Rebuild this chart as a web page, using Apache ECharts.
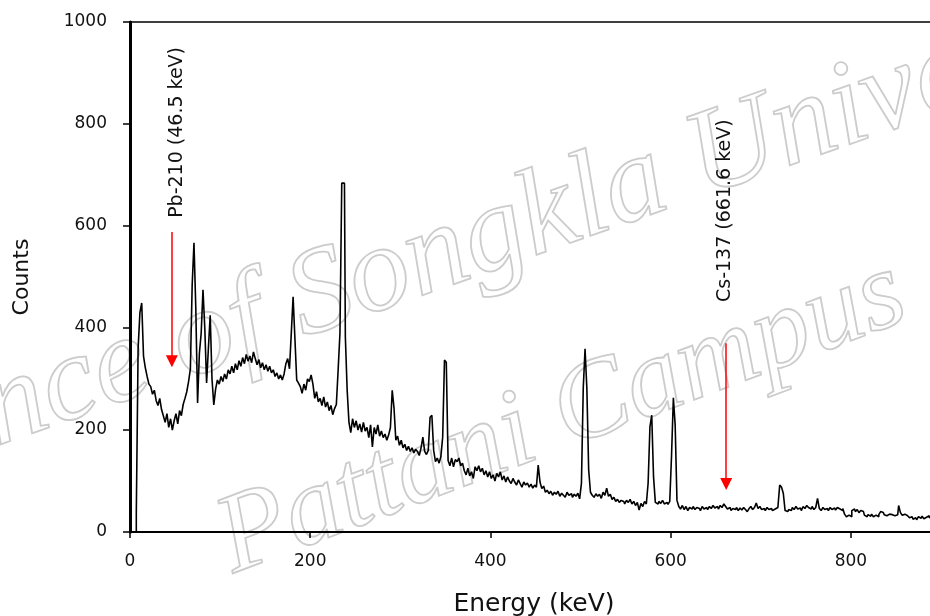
<!DOCTYPE html>
<html>
<head>
<meta charset="utf-8">
<script src="https://cdn.jsdelivr.net/npm/echarts@6/dist/echarts.min.js"></script>
<style>
  html, body { margin: 0; padding: 0; background: #fff; }
  #chart { width: 930px; height: 616px; }
</style>
</head>
<body>
<div id="chart"></div>
<script>
// Gamma-ray spectrum, 2 keV per channel, counts per channel
const CHANNEL_KEV = 2;
const counts = [
  1400, 0, 0, 0, 37, 360, 430, 449, 345, 322,        // 0 keV
  305, 290, 285, 270, 278, 258, 248, 262, 240, 228,   // 20
  215, 232, 205, 222, 200, 218, 232, 212, 238, 228,   // 40
  250, 262, 275, 295, 320, 484, 567, 440, 253, 350,   // 60
  390, 475, 400, 292, 360, 425, 300, 249, 280, 298,   // 80
  290, 305, 295, 310, 300, 318, 310, 325, 312, 330,   // 100
  318, 336, 325, 342, 330, 348, 335, 345, 332, 353,   // 120
  340, 328, 338, 322, 332, 318, 328, 315, 325, 312,   // 140
  318, 305, 312, 300, 308, 298, 310, 330, 340, 320,   // 160
  390, 461, 380, 298, 292, 285, 272, 290, 278, 300,   // 180
  295, 308, 290, 262, 275, 255, 262, 248, 265, 245,   // 200
  255, 238, 248, 230, 242, 250, 318, 390, 684, 684,   // 220
  382, 278, 215, 195, 222, 205, 218, 200, 212, 196,   // 240
  215, 198, 205, 185, 210, 167, 205, 192, 210, 188,   // 260
  198, 185, 192, 180, 190, 205, 278, 243, 180, 188,   // 280
  170, 180, 165, 172, 160, 168, 158, 165, 155, 162,   // 300
  158, 150, 165, 186, 158, 152, 160, 225, 229, 160,   // 320
  138, 145, 135, 148, 186, 337, 333, 140, 130, 145,   // 340
  128, 142, 138, 145, 130, 135, 120, 112, 125, 110,   // 360
  118, 105, 128, 120, 130, 118, 125, 112, 120, 108,   // 380
  118, 105, 112, 100, 115, 108, 118, 102, 110, 98,    // 400
  108, 100, 95, 105, 98, 92, 102, 95, 88, 98,         // 420
  92, 96, 88, 94, 86, 92, 88, 131, 98, 85,            // 440
  90, 78, 82, 75, 80, 72, 78, 74, 80, 70,             // 460
  76, 72, 68, 78, 72, 75, 68, 74, 70, 76,             // 480
  65, 96, 282, 359, 282, 122, 78, 72, 68, 75,         // 500
  70, 74, 66, 78, 72, 86, 70, 74, 64, 68,             // 520
  60, 64, 58, 62, 60, 55, 62, 58, 64, 55,             // 540
  60, 52, 58, 43, 56, 50, 60, 55, 96, 206,            // 560
  229, 108, 58, 55, 60, 56, 62, 55, 58, 54,           // 580
  60, 151, 263, 210, 62, 50, 45, 52, 44, 50,          // 600
  42, 48, 45, 50, 44, 48, 46, 42, 50, 45,             // 620
  48, 44, 50, 46, 52, 47, 50, 45, 52, 48,             // 640
  55, 50, 45, 48, 42, 46, 44, 48, 42, 47,             // 660
  43, 48, 44, 40, 46, 50, 44, 48, 57, 46,             // 680
  50, 44, 46, 42, 48, 44, 46, 42, 45, 48,             // 700
  50, 92, 88, 76, 42, 40, 44, 42, 48, 44,             // 720
  50, 45, 47, 42, 50, 46, 52, 48, 45, 50,             // 740
  44, 48, 66, 46, 42, 48, 44, 46, 42, 48,             // 760
  44, 47, 43, 48, 45, 42, 46, 35, 30, 33,             // 780
  30, 42, 45, 40, 44, 38, 42, 40, 33, 30,             // 800
  34, 31, 35, 30, 33, 30, 34, 40, 38, 34,             // 820
  32, 35, 33, 34, 32, 35, 34, 52, 38, 33,             // 840
  35, 32, 34, 28, 30, 25, 28, 24, 30, 27,             // 860
  31, 26, 29, 32, 28, 30, 28, 31, 27, 30,             // 880
  26, 29, 27, 30, 28                                  // 900
];

// Axis ticks
const energyTicks = [0, 200, 400, 600, 800];
const countTicks = [0, 200, 400, 600, 800, 1000];

// Marked isotope lines
const peakLabels = ['Pb-210 (46.5 keV)', 'Cs-137 (661.6 keV)'];
const peakEnergies = [46.5, 661.6];

// Arrow and caption placement (in counts / pixels)
const ARROW_TOP = [588, 370];
const ARROW_TIP = [335, 94];
const CAPTION_BASE = [616, 451];
const CAPTION_DX = [5, -1];

const FONT = '"DejaVu Sans", Arial, sans-serif';

const spectrum = counts.map((c, i) => [i * CHANNEL_KEV, c]);

const chart = echarts.init(document.getElementById('chart'), null, { renderer: 'canvas' });

const option = {
  animation: false,
  backgroundColor: '#fff',
  grid: {
    left: 130, top: 22, bottom: 84, width: 820,
    outerBoundsMode: 'none',
    containLabel: false,
    show: true, borderColor: '#000', borderWidth: 1.5, backgroundColor: 'transparent'
  },
  xAxis: {
    type: 'value',
    min: energyTicks[0],
    max: 910,
    interval: energyTicks[1] - energyTicks[0],
    name: 'Energy (keV)',
    nameLocation: 'middle',
    nameGap: 60,
    nameTextStyle: { fontFamily: FONT, fontSize: 25, color: '#111', padding: [0, 12, 0, 0] },
    axisLine: { show: true, onZero: false, lineStyle: { color: '#000', width: 2 } },
    axisTick: { show: true, length: 6, lineStyle: { color: '#000', width: 1.5 } },
    axisLabel: {
      fontFamily: FONT, fontSize: 17, color: '#111', margin: 21,
      showMaxLabel: false,
      formatter: v => (energyTicks.includes(v) ? String(v) : '')
    },
    splitLine: { show: false }
  },
  yAxis: {
    type: 'value',
    min: countTicks[0],
    max: countTicks[countTicks.length - 1],
    interval: countTicks[1] - countTicks[0],
    name: 'Counts',
    nameLocation: 'middle',
    nameGap: 97,
    nameTextStyle: { fontFamily: FONT, fontSize: 22, color: '#111' },
    axisLine: { show: true, lineStyle: { color: '#000', width: 3 } },
    axisTick: { show: true, length: 7, lineStyle: { color: '#000', width: 1.5 } },
    axisLabel: {
      fontFamily: FONT, fontSize: 17, color: '#111', margin: 23,
      formatter: v => String(v)
    },
    splitLine: { show: false }
  },
  series: [{
    type: 'line',
    data: spectrum,
    step: 'middle',
    showSymbol: false,
    clip: true,
    z: 3,
    lineStyle: { color: '#000', width: 1.6 },
    emphasis: { disabled: true },
    markLine: {
      silent: true,
      symbol: ['none', 'triangle'],
      symbolSize: 12,
      label: { show: false },
      lineStyle: { color: '#ff0000', width: 1.5, type: 'solid' },
      itemStyle: { color: '#ff0000' },
      emphasis: { disabled: true },
      data: peakEnergies.map((e, i) => [
        { coord: [e, ARROW_TOP[i]] },
        { coord: [e, ARROW_TIP[i]] }
      ])
    }
  }]
};

chart.setOption(option);

// Watermark and rotated isotope captions
const graphics = [
  {
    type: 'text', x: 505, y: 232, rotation: 0.34, z: 0, silent: true,
    style: {
      text: 'Prince of Songkla University',
      font: 'italic 122px "Liberation Serif", serif',
      fill: 'rgba(255,255,255,0)', stroke: '#cccccc', lineWidth: 1.8,
      textAlign: 'center', textVerticalAlign: 'middle'
    }
  },
  {
    type: 'text', x: 562, y: 418, rotation: 0.36, z: 0, silent: true,
    style: {
      text: 'Pattani Campus',
      font: 'italic 112px "Liberation Serif", serif',
      fill: 'rgba(255,255,255,0)', stroke: '#cccccc', lineWidth: 1.8,
      textAlign: 'center', textVerticalAlign: 'middle'
    }
  }
];

peakLabels.forEach((label, i) => {
  const p = chart.convertToPixel({ gridIndex: 0 }, [peakEnergies[i], CAPTION_BASE[i]]);
  graphics.push({
    type: 'text', x: p[0] + CAPTION_DX[i], y: p[1], rotation: Math.PI / 2, z: 10, silent: true,
    style: {
      text: label, font: '19px ' + FONT, fill: '#111',
      textAlign: 'left', textVerticalAlign: 'middle'
    }
  });
});

chart.setOption({ graphic: graphics });
</script>
</body>
</html>
